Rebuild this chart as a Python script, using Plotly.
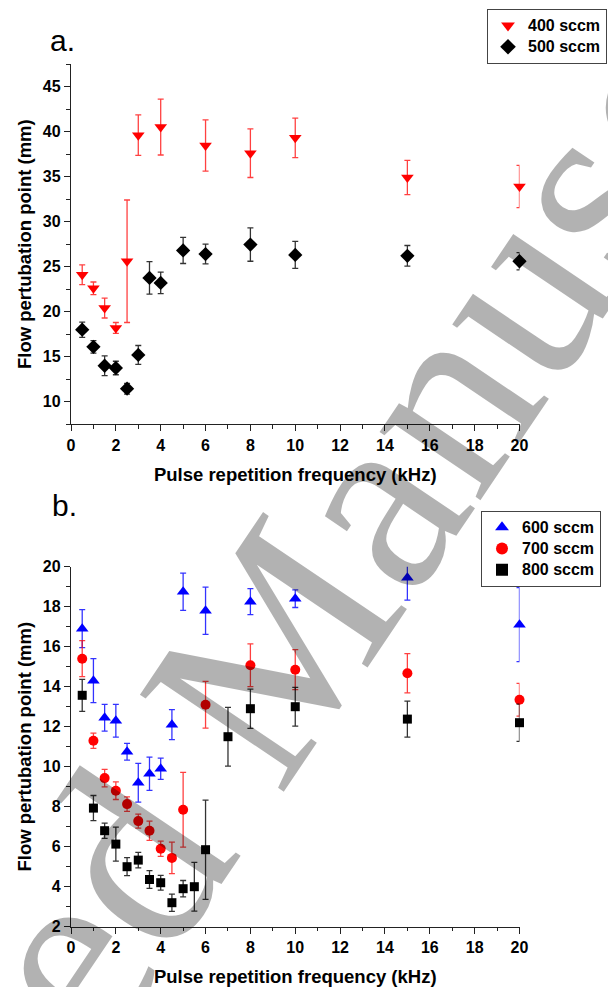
import plotly.graph_objects as go

# ---------------- data ----------------
# Panel a
freq_400 = [0.5, 1, 1.5, 2, 2.5, 3, 4, 6, 8, 10, 15, 20]
val_400 = [24.1, 22.6, 20.4, 18.2, 25.6, 39.6, 40.5, 38.45, 37.6, 39.3, 34.9, 33.9]
err_400 = [1.1, 0.7, 1.1, 0.6, 6.8, 2.25, 3.1, 2.85, 2.7, 2.2, 1.9, 2.35]

freq_500 = [0.5, 1, 1.5, 2, 2.5, 3, 3.5, 4, 5, 6, 8, 10, 15, 20]
val_500 = [18.0, 16.1, 14.0, 13.75, 11.45, 15.2, 23.75, 23.2, 26.8, 26.4, 27.45, 26.3, 26.2, 25.6]
err_500 = [0.85, 0.7, 1.1, 0.75, 0.6, 1.05, 1.8, 1.2, 1.45, 1.1, 1.85, 1.5, 1.15, 0.95]

# Panel b
freq_600 = [0.5, 1, 1.5, 2, 2.5, 3, 3.5, 4, 4.5, 5, 6, 8, 10, 15, 20]
val_600 = [16.9, 14.3, 12.45, 12.3, 10.75, 9.2, 9.65, 9.9, 12.1, 18.75, 17.8, 18.25, 18.4, 19.45, 17.1]
err_600 = [0.95, 1.1, 0.67, 0.82, 0.42, 0.97, 0.83, 0.53, 0.75, 0.93, 1.18, 0.65, 0.44, 1.12, 1.85]

freq_700 = [0.5, 1, 1.5, 2, 2.5, 3, 3.5, 4, 4.5, 5, 6, 8, 10, 15, 20]
val_700 = [15.4, 11.3, 9.43, 8.8, 8.13, 7.28, 6.8, 5.9, 5.44, 7.85, 13.1, 15.07, 14.85, 14.67, 13.35]
err_700 = [0.9, 0.38, 0.44, 0.44, 0.36, 0.35, 0.48, 0.38, 0.79, 1.87, 1.17, 1.07, 1.0, 0.98, 0.82]

freq_800 = [0.5, 1, 1.5, 2, 2.5, 3, 3.5, 4, 4.5, 5, 5.5, 6, 7, 8, 10, 15, 20]
val_800 = [13.57, 7.93, 6.8, 6.13, 5.0, 5.33, 4.36, 4.2, 3.2, 3.9, 4.0, 5.85, 11.5, 12.9, 13.0, 12.38, 12.2]
err_800 = [0.8, 0.63, 0.38, 0.85, 0.45, 0.39, 0.44, 0.37, 0.43, 0.41, 1.22, 2.48, 1.47, 0.98, 0.97, 0.9, 0.93]

series_names = ["400 sccm", "500 sccm", "600 sccm", "700 sccm", "800 sccm"]
x_title = "Pulse repetition frequency (kHz)"
y_title = "Flow pertubation point (mm)"
watermark = "Accepted Manuscript"

# ---------------- figure ----------------
W, H = 608, 987
FONT = "Liberation Sans, Arial, sans-serif"

def px_x(p):
    return p / W

def px_y(p):
    return 1 - p / H

fig = go.Figure()

def add_series(x, y, e, name, symbol, color, ecolor, size, xa, ya, legend):
    fig.add_trace(go.Scatter(
        x=x, y=y, mode="markers",
        name='<span style="font-size:16px">' + name + '</span>',
        marker=dict(symbol=symbol, color=color, size=size, line=dict(width=0)),
        error_y=dict(type="data", array=e, visible=True, thickness=1.3, width=3, color=ecolor),
        xaxis=xa, yaxis=ya, legend=legend, cliponaxis=False,
    ))

add_series(freq_400, val_400, err_400, series_names[0], "triangle-down", "#ff0000", "rgba(255,0,0,0.75)", 11, "x", "y", "legend")
add_series(freq_500, val_500, err_500, series_names[1], "diamond", "#000000", "rgba(0,0,0,0.8)", 11, "x", "y", "legend")
add_series(freq_600, val_600, err_600, series_names[2], "triangle-up", "#0000ff", "rgba(0,0,255,0.8)", 11, "x2", "y2", "legend2")
add_series(freq_700, val_700, err_700, series_names[3], "circle", "#ff0000", "rgba(255,0,0,0.75)", 10, "x2", "y2", "legend2")
add_series(freq_800, val_800, err_800, series_names[4], "square", "#000000", "rgba(0,0,0,0.8)", 9, "x2", "y2", "legend2")

tickfont = dict(family=FONT, size=16, color="#000", weight="bold")
titlefont = dict(family=FONT, size=18.5, color="#000", weight="bold")
legfont = dict(family=FONT, size=14, color="#000", weight="bold")

common = dict(showline=True, linecolor="#222", linewidth=1.3, ticks="outside", ticklen=6,
              tickwidth=1.3, tickcolor="#222", showgrid=False, zeroline=False,
              tickfont=tickfont, mirror=False, automargin=False)

xdom = [px_x(71), px_x(519.5)]
fig.update_layout(
    width=W, height=H, margin=dict(l=0, r=0, t=0, b=0, autoexpand=False),
    paper_bgcolor="white", plot_bgcolor="white",
    showlegend=True,
    xaxis=dict(domain=xdom, range=[0, 20], dtick=2, tick0=0, anchor="y",
               minor=dict(ticks="outside", ticklen=3.5, dtick=1, tickcolor="#222", tickwidth=1.2),
               title=dict(text=x_title, font=titlefont, standoff=15), **common),
    yaxis=dict(domain=[px_y(424.3), px_y(64)], range=[7.5, 47.5], dtick=5, tick0=0, anchor="x",
               minor=dict(ticks="outside", ticklen=3.5, dtick=2.5, tickcolor="#222", tickwidth=1.2),
               title=dict(text=y_title, font=titlefont, standoff=6), **common),
    xaxis2=dict(domain=xdom, range=[0, 20], dtick=2, tick0=0, anchor="y2",
                minor=dict(ticks="outside", ticklen=3.5, dtick=1, tickcolor="#222", tickwidth=1.2),
                title=dict(text=x_title, font=titlefont, standoff=15), **common),
    yaxis2=dict(domain=[px_y(926.7), px_y(566.7)], range=[2, 20], dtick=2, tick0=0, anchor="x2",
                minor=dict(ticks="outside", ticklen=3.5, dtick=1, tickcolor="#222", tickwidth=1.2),
                title=dict(text=y_title, font=titlefont, standoff=6), **common),
    legend=dict(x=px_x(487), y=px_y(9), xanchor="left", yanchor="top",
                bordercolor="#444", borderwidth=1, bgcolor="white",
                font=legfont, itemsizing="constant"),
    legend2=dict(x=px_x(481), y=px_y(510.7), xanchor="left", yanchor="top",
                 bordercolor="#444", borderwidth=1, bgcolor="white",
                 font=legfont, itemsizing="constant"),
)

annos = [
    dict(text="a.", x=px_x(48), y=px_y(40), xref="paper", yref="paper", xanchor="left", yanchor="middle",
         showarrow=False, font=dict(family=FONT, size=30, color="#000")),
    dict(text="b.", x=px_x(50), y=px_y(505), xref="paper", yref="paper", xanchor="left", yanchor="middle",
         showarrow=False, font=dict(family=FONT, size=30, color="#000")),
    dict(text=watermark, x=px_x(245), y=px_y(690), xref="paper", yref="paper",
         xanchor="center", yanchor="middle", textangle=-56, showarrow=False,
         font=dict(family="Liberation Serif, Times New Roman, serif", size=265, color="rgba(0,0,0,0.3)")),
]
fig.update_layout(annotations=annos)

fig.write_html("out.html", config={"displayModeBar": False},
               post_script="document.body.style.margin='0px';")
